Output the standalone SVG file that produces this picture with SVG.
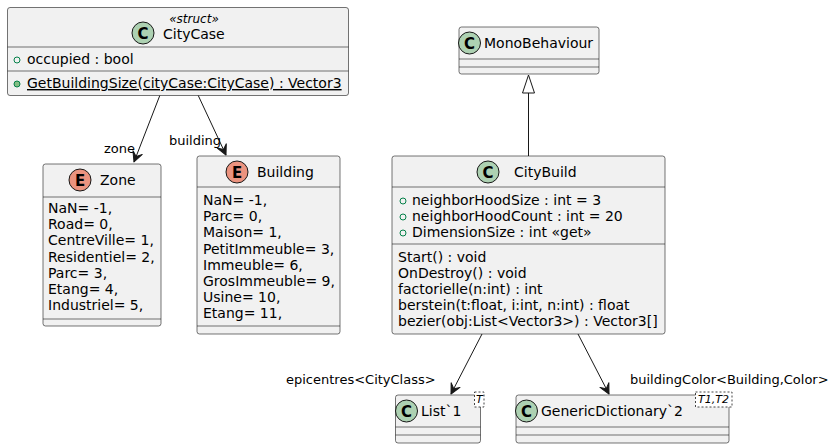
<svg xmlns="http://www.w3.org/2000/svg" width="833" height="448" viewBox="0 0 833 448">
<defs>
<style>
text{font-family:"DejaVu Sans","Liberation Sans",sans-serif;fill:#000}
.box{fill:#F1F1F1;stroke:#181818;stroke-width:0.6}
.sep{stroke:#181818;stroke-width:0.6}
.name{font-size:14px}
.mem{font-size:14px}
.lbl{font-size:13px}
.cc{fill:#ADD1B2;stroke:#181818;stroke-width:1}
.ce{fill:#EB937F;stroke:#181818;stroke-width:1}
.glyph{font-size:15px;font-weight:bold;text-anchor:middle}
.pub{fill:none;stroke:#038048;stroke-width:1}
.pubm{fill:#84BE84;stroke:#038048;stroke-width:1}
.edge{stroke:#181818;stroke-width:1;fill:none}
.tpl{fill:#fff;stroke:#181818;stroke-width:0.8;stroke-dasharray:2,2}
.tt{font-size:11px;font-style:italic}
</style>
<marker id="arr" viewBox="0 0 12 12" refX="11" refY="6" markerWidth="12" markerHeight="12" markerUnits="userSpaceOnUse" orient="auto">
<path d="M1,1 L11,6 L1,11 L5,6 Z" fill="#181818" stroke="#181818" stroke-width="1" stroke-linejoin="round"/>
</marker>
</defs>

<g id="connectors">
<line class="edge" x1="160" y1="95" x2="134" y2="162" marker-end="url(#arr)"/>
<text class="lbl" x="104" y="153">zone</text>
<line class="edge" x1="198" y1="95" x2="226" y2="155" marker-end="url(#arr)"/>
<text class="lbl" x="169" y="145">building</text>
<line class="edge" x1="528.5" y1="93" x2="528.5" y2="156"/>
<polygon points="528.5,75 522.5,93 534.5,93" fill="none" stroke="#181818" stroke-width="1"/>
<line class="edge" x1="482" y1="334" x2="451" y2="394" marker-end="url(#arr)"/>
<text class="lbl" x="286" y="384">epicentres&lt;CityClass&gt;</text>
<line class="edge" x1="578" y1="334" x2="609" y2="394" marker-end="url(#arr)"/>
<text class="lbl" x="630" y="384">buildingColor&lt;Building,Color&gt;</text>
</g>

<g id="CityCase">
<rect class="box" x="7.5" y="7.5" width="341" height="88" rx="2.5"/>
<line class="sep" x1="7.5" y1="47" x2="348.5" y2="47"/>
<line class="sep" x1="7.5" y1="71" x2="348.5" y2="71"/>
<circle class="cc" cx="143" cy="33" r="11"/>
<text class="glyph" x="143" y="38.5">C</text>
<text x="194" y="23" font-size="12" font-style="italic" text-anchor="middle">«struct»</text>
<text class="name" x="163" y="39">CityCase</text>
<circle class="pub" cx="17" cy="60" r="3"/>
<text class="mem" x="27" y="64">occupied : bool</text>
<circle class="pubm" cx="17" cy="84" r="3"/>
<text class="mem" x="27" y="88" text-decoration="underline">GetBuildingSize(cityCase:CityCase) : Vector3</text>
</g>

<g id="Zone">
<rect class="box" x="43" y="164" width="118" height="162" rx="2.5"/>
<line class="sep" x1="43" y1="197" x2="161" y2="197"/>
<line class="sep" x1="43" y1="319" x2="161" y2="319"/>
<circle class="ce" cx="80" cy="180" r="11"/>
<text class="glyph" x="80" y="185.5">E</text>
<text class="name" x="100" y="185">Zone</text>
<text class="mem" x="48" y="213">NaN= -1,</text>
<text class="mem" x="48" y="229.2">Road= 0,</text>
<text class="mem" x="48" y="245.4">CentreVille= 1,</text>
<text class="mem" x="48" y="261.6">Residentiel= 2,</text>
<text class="mem" x="48" y="277.8">Parc= 3,</text>
<text class="mem" x="48" y="294">Etang= 4,</text>
<text class="mem" x="48" y="310.2">Industriel= 5,</text>
</g>

<g id="Building">
<rect class="box" x="197" y="156" width="143" height="178" rx="2.5"/>
<line class="sep" x1="197" y1="187" x2="340" y2="187"/>
<line class="sep" x1="197" y1="326" x2="340" y2="326"/>
<circle class="ce" cx="237" cy="172" r="11"/>
<text class="glyph" x="237" y="177.5">E</text>
<text class="name" x="257" y="177">Building</text>
<text class="mem" x="203" y="205">NaN= -1,</text>
<text class="mem" x="203" y="221.2">Parc= 0,</text>
<text class="mem" x="203" y="237.4">Maison= 1,</text>
<text class="mem" x="203" y="253.6">PetitImmeuble= 3,</text>
<text class="mem" x="203" y="269.8">Immeuble= 6,</text>
<text class="mem" x="203" y="286">GrosImmeuble= 9,</text>
<text class="mem" x="203" y="302.2">Usine= 10,</text>
<text class="mem" x="203" y="318.4">Etang= 11,</text>
</g>

<g id="MonoBehaviour">
<rect class="box" x="459" y="27" width="140" height="47" rx="2.5"/>
<line class="sep" x1="459" y1="59" x2="599" y2="59"/>
<line class="sep" x1="459" y1="67" x2="599" y2="67"/>
<circle class="cc" cx="469.5" cy="43" r="11"/>
<text class="glyph" x="469.5" y="48.5">C</text>
<text class="name" x="484" y="48">MonoBehaviour</text>
</g>

<g id="CityBuild">
<rect class="box" x="392" y="156" width="273" height="178" rx="2.5"/>
<line class="sep" x1="392" y1="187" x2="665" y2="187"/>
<line class="sep" x1="392" y1="244" x2="665" y2="244"/>
<circle class="cc" cx="488" cy="172" r="11"/>
<text class="glyph" x="488" y="177.5">C</text>
<text class="name" x="514" y="177">CityBuild</text>
<circle class="pub" cx="403" cy="201" r="3"/>
<text class="mem" x="412" y="205">neighborHoodSize : int = 3</text>
<circle class="pub" cx="403" cy="217" r="3"/>
<text class="mem" x="412" y="221">neighborHoodCount : int = 20</text>
<circle class="pub" cx="403" cy="233" r="3"/>
<text class="mem" x="412" y="237">DimensionSize : int «get»</text>
<text class="mem" x="398" y="262">Start() : void</text>
<text class="mem" x="398" y="278">OnDestroy() : void</text>
<text class="mem" x="398" y="294">factorielle(n:int) : int</text>
<text class="mem" x="398" y="310">berstein(t:float, i:int, n:int) : float</text>
<text class="mem" x="398" y="326">bezier(obj:List&lt;Vector3&gt;) : Vector3[]</text>
</g>

<g id="List1">
<rect class="box" x="395.5" y="395" width="85" height="48" rx="2.5"/>
<line class="sep" x1="395.5" y1="427" x2="480.5" y2="427"/>
<line class="sep" x1="395.5" y1="435" x2="480.5" y2="435"/>
<circle class="cc" cx="406.5" cy="411" r="11"/>
<text class="glyph" x="406.5" y="416.5">C</text>
<text class="name" x="421" y="416">List`1</text>
<rect class="tpl" x="474.5" y="392" width="9.5" height="15"/>
<text class="tt" x="476" y="403">T</text>
</g>

<g id="GenericDictionary2">
<rect class="box" x="516" y="395" width="213" height="48" rx="2.5"/>
<line class="sep" x1="516" y1="427" x2="729" y2="427"/>
<line class="sep" x1="516" y1="435" x2="729" y2="435"/>
<circle class="cc" cx="526.5" cy="411" r="11"/>
<text class="glyph" x="526.5" y="416.5">C</text>
<text class="name" x="541" y="416">GenericDictionary`2</text>
<rect class="tpl" x="695.5" y="392" width="36.5" height="15"/>
<text class="tt" x="698" y="403">T1,T2</text>
</g>
</svg>
